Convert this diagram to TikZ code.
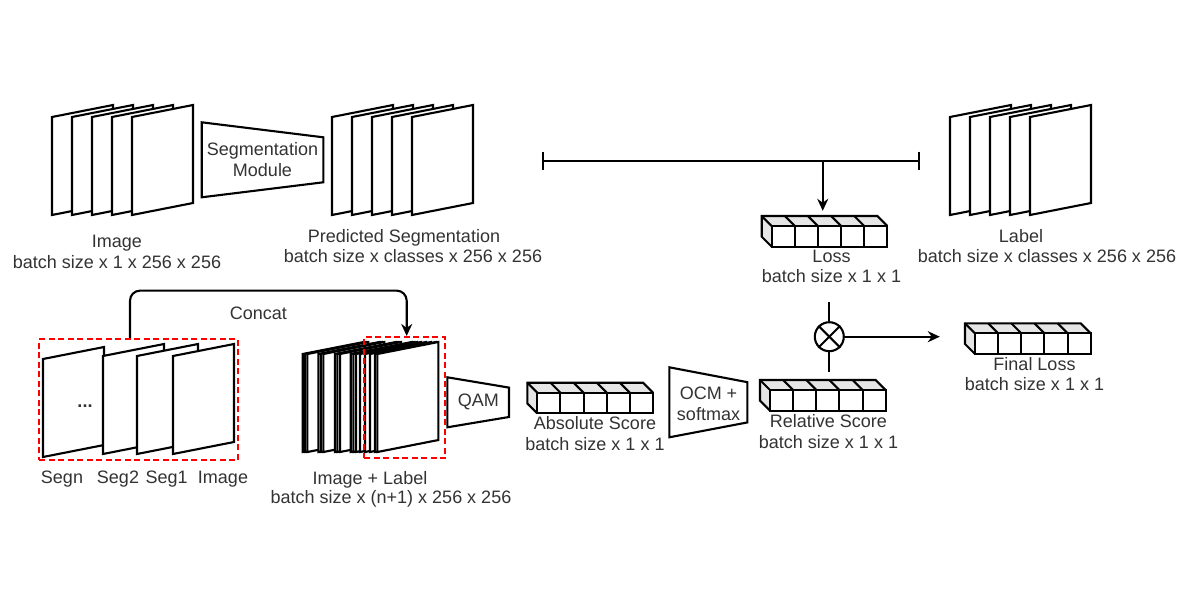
\documentclass[tikz,border=0pt]{standalone}
\usepackage{fontspec}
\setmainfont{Liberation Sans}
\usepackage{tikz}
\usetikzlibrary{positioning,arrows.meta}

\newcommand\sheetat[2]{\draw[sheet] (#1,#2+12) -- ++(61,-12) -- ++(0,98) -- ++(-61,12) -- cycle;}
\newcommand\funnel[5]{\draw[wire] (#1,#2-#4/2) -- (#1+#3,#2-#5/2) -- (#1+#3,#2+#5/2) -- (#1,#2+#4/2) -- cycle;}
\newcommand\scorebar[3]{%
  \fill[face] (#2,#3) -- ++(-10,-10) -- ++(115.7,0) -- ++(10,10) -- cycle;
  \fill[face] (#2,#3) -- ++(-10,-10) -- ++(0,20.7) -- ++(10,10) -- cycle;
  \draw[wire] (#2,#3+20.7) -- ++(-10,-10) -- ++(0,-20.7) -- ++(115.7,0) -- ++(10,10);
  \foreach \i in {0,...,4} {
    \draw[wire] (#2+\i*23.14,#3) -- ++(-10,-10);
    \draw[wire] (#2+\i*23.14,#3) rectangle ++(23.14,20.7);
  }
  \node[cubebox] (#1) at (#2+52.85,#3+5.35) {};}

\begin{document}
\begin{tikzpicture}[x=1pt,y=-1pt,
  wire/.style={line width=2.1pt,draw=black},
  sheet/.style={wire,fill=white},
  face/.style={fill=black!10},
  cubebox/.style={inner sep=0,minimum width=125.7,minimum height=30.7},
  redbox/.style={draw=red,line width=2.1pt,dash pattern=on 6pt off 3.5pt},
  arr/.style={wire,-{Stealth[length=12pt,width=11pt]}},
  lbl/.style={font=\fontsize{18}{20.7}\selectfont,text=black!80,inner sep=0,align=center}]
  \useasboundingbox[fill=white] (0,0) rectangle (1200,600);

  \foreach \x in {52,72,...,132} {\sheetat{\x}{105}}
  \foreach \x in {332,352,...,412} {\sheetat{\x}{105}}
  \foreach \x in {950,970,...,1030} {\sheetat{\x}{105}}
  \funnel{201.7}{159.8}{121.6}{75}{45}
  \node[lbl] (segmod) at (262.5,159.8) {Segmentation\\Module};
  \node[lbl,anchor=north] (imglbl) at (117,235.2) {Image\\batch size x 1 x 256 x 256};
  \node[lbl,anchor=north] (predttl) at (404,229.2) {Predicted Segmentation};
  \node[lbl,anchor=north] (preddim) at (413,249.2) {batch size x classes x 256 x 256};
  \node[lbl,anchor=north] (labttl) at (1021,229.2) {Label};
  \node[lbl,anchor=north] (labdim) at (1047,249.2) {batch size x classes x 256 x 256};

  \coordinate (brl) at (541.7,160.7);
  \coordinate (brr) at (920,160.7);
  \draw[wire,{Bar[width=18pt]}-{Bar[width=18pt]}] (brl) -- (brr);
  \scorebar{loss}{771.7}{226}
  \draw[arr,shorten >=5pt] ([xshift=-1.8pt]loss.north |- brl) -- ([xshift=-1.8pt]loss.north);
  \node[lbl,anchor=north] (losslbl) at (831.5,249.5) {Loss\\batch size x 1 x 1};

  \sheetat{43}{347}
  \foreach \x in {103,137,173} {\sheetat{\x}{344}}
  \node[lbl] (dots) at (85,405.7) {\textbf{...}};
  \node[redbox,minimum width=199,minimum height=121] (segbox) at (138.8,399.5) {};
  \node[lbl,anchor=north] (segn) at (62,470.8) {Segn};
  \node[lbl,anchor=north] (seg2) at (118,470.8) {Seg2};
  \node[lbl,anchor=north] (seg1) at (166.7,470.8) {Seg1};
  \node[lbl,anchor=north] (segimg) at (223,470.8) {Image};

  \foreach \o in {0,2.3,4.7,15.7,18,20.7,32.3,34.7,37.3,48,50.7,53.3,57.3,62.3,67.3,72.3,74.7} {\sheetat{302.7+\o}{342}}
  \node[redbox,minimum width=81,minimum height=121] (lblbox) at (404.5,397.5) {};
  \node[lbl,anchor=north] (catttl) at (370,470.8) {Image + Label};
  \node[lbl,anchor=north] (catdim) at (391,490.5) {batch size x (n+1) x 256 x 256};
  \draw[arr,rounded corners=10pt] ([xshift=-8.8pt]segbox.north) -- ++(0,-47.3)
    -| node[lbl,pos=0.25,anchor=north,xshift=-10pt,yshift=-15pt] {Concat} ([xshift=2.2pt]lblbox.north);

  \funnel{447.3}{402.3}{61.7}{50}{29.4}
  \node[lbl] (qam) at (478.3,402.3) {QAM};
  \scorebar{abs}{537.3}{392.7}
  \node[lbl,anchor=north] (abslbl) at (595,416.2) {Absolute Score\\batch size x 1 x 1};
  \funnel{669.3}{402.3}{78}{70}{40.3}
  \node[lbl] (ocm) at (708.5,403.5) {OCM +\\softmax};
  \scorebar{rel}{770}{390}
  \node[lbl,anchor=north] (rellbl) at (828.5,414.2) {Relative Score\\batch size x 1 x 1};

  \node[wire,circle,minimum size=29,inner sep=0] (mul) at (829.3,336.7) {};
  \draw[wire] (mul.north west) -- (mul.south east);
  \draw[wire] (mul.north east) -- (mul.south west);
  \draw[wire] (mul.north) -- ++(0,-19.5);
  \draw[wire] (mul.south) -- ++(0,19.5);
  \scorebar{final}{975}{333.3}
  \draw[arr,shorten >=25pt] (mul.east) -- (mul.east -| final.west);
  \node[lbl,anchor=north] (finallbl) at (1034.5,356.8) {Final Loss\\batch size x 1 x 1};
\end{tikzpicture}
\end{document}
